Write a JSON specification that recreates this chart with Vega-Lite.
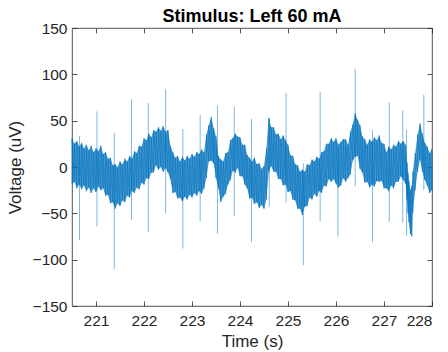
{
 "$schema": "https://vega.github.io/schema/vega-lite/v6.json",
 "width": 360, "height": 278,
 "autosize": "none",
 "padding": {"left": 72, "top": 28, "right": 16, "bottom": 46},
 "background": "white",
 "title": {"text": "Stimulus: Left 60 mA", "fontSize": 18, "font": "Liberation Sans", "fontWeight": "bold", "color": "#000000", "offset": -5},
 "config": {
  "view": {"stroke": "#262626", "strokeWidth": 0.8},
  "axis": {"domain": false, "grid": false, "tickColor": "#262626", "tickSize": -5, "tickWidth": 0.8,
           "labelFont": "Liberation Sans", "labelFontSize": 15.5, "labelColor": "#262626",
           "titleFont": "Liberation Sans", "titleFontSize": 17, "titleFontWeight": "normal", "titleColor": "#262626"}
 },
 "datasets": {
  "env": [
   {"t":220.50,"lo":-19,"hi":31},{"t":220.55,"lo":-16,"hi":25},{"t":220.60,"lo":-23,"hi":28},{"t":220.65,"lo":-19,"hi":22},
   {"t":220.70,"lo":-24,"hi":26},{"t":220.75,"lo":-20,"hi":20},{"t":220.80,"lo":-26,"hi":24},{"t":220.85,"lo":-22,"hi":18},
   {"t":220.90,"lo":-28,"hi":23},{"t":220.95,"lo":-23,"hi":16},{"t":221.00,"lo":-27,"hi":20},{"t":221.05,"lo":-21,"hi":17},
   {"t":221.10,"lo":-25,"hi":23},{"t":221.15,"lo":-23,"hi":14},{"t":221.20,"lo":-31,"hi":16},{"t":221.25,"lo":-30,"hi":9},
   {"t":221.30,"lo":-39,"hi":10},{"t":221.35,"lo":-38,"hi":2},{"t":221.40,"lo":-45,"hi":3},{"t":221.45,"lo":-39,"hi":0},
   {"t":221.50,"lo":-42,"hi":6},{"t":221.55,"lo":-36,"hi":3},{"t":221.60,"lo":-38,"hi":9},{"t":221.65,"lo":-31,"hi":6},
   {"t":221.70,"lo":-33,"hi":12},{"t":221.75,"lo":-26,"hi":9},{"t":221.80,"lo":-28,"hi":17},{"t":221.85,"lo":-22,"hi":15},
   {"t":221.90,"lo":-24,"hi":23},{"t":221.95,"lo":-17,"hi":22},{"t":222.00,"lo":-19,"hi":31},{"t":222.05,"lo":-12,"hi":29},
   {"t":222.10,"lo":-13,"hi":36},{"t":222.15,"lo":-6,"hi":32},{"t":222.20,"lo":-6,"hi":40},{"t":222.25,"lo":2,"hi":38},
   {"t":222.30,"lo":-3,"hi":43},{"t":222.35,"lo":0,"hi":39},{"t":222.40,"lo":-5,"hi":44},{"t":222.45,"lo":-1,"hi":38},
   {"t":222.50,"lo":-6,"hi":40},{"t":222.55,"lo":-13,"hi":23},{"t":222.60,"lo":-28,"hi":16},{"t":222.65,"lo":-27,"hi":10},
   {"t":222.70,"lo":-34,"hi":12},{"t":222.75,"lo":-33,"hi":6},{"t":222.80,"lo":-37,"hi":11},{"t":222.85,"lo":-32,"hi":7},
   {"t":222.90,"lo":-35,"hi":12},{"t":222.95,"lo":-30,"hi":9},{"t":223.00,"lo":-33,"hi":14},{"t":223.05,"lo":-28,"hi":11},
   {"t":223.10,"lo":-31,"hi":16},{"t":223.15,"lo":-26,"hi":14},{"t":223.20,"lo":-29,"hi":19},{"t":223.25,"lo":-23,"hi":16},
   {"t":223.30,"lo":-12,"hi":35},{"t":223.35,"lo":6,"hi":45},{"t":223.40,"lo":7,"hi":54},{"t":223.45,"lo":4,"hi":42},
   {"t":223.50,"lo":-12,"hi":33},{"t":223.55,"lo":-23,"hi":12},{"t":223.60,"lo":-38,"hi":8},{"t":223.65,"lo":-32,"hi":6},
   {"t":223.70,"lo":-29,"hi":15},{"t":223.75,"lo":-19,"hi":16},{"t":223.80,"lo":-14,"hi":29},{"t":223.85,"lo":-4,"hi":31},
   {"t":223.90,"lo":-6,"hi":36},{"t":223.95,"lo":-1,"hi":33},{"t":224.00,"lo":-10,"hi":32},{"t":224.05,"lo":-10,"hi":24},
   {"t":224.10,"lo":-19,"hi":24},{"t":224.15,"lo":-23,"hi":13},{"t":224.20,"lo":-34,"hi":10},{"t":224.25,"lo":-33,"hi":6},
   {"t":224.30,"lo":-40,"hi":10},{"t":224.35,"lo":-38,"hi":3},{"t":224.40,"lo":-44,"hi":4},{"t":224.45,"lo":-41,"hi":-2},
   {"t":224.50,"lo":-45,"hi":1},{"t":224.55,"lo":-35,"hi":20},{"t":224.60,"lo":-5,"hi":53},{"t":224.65,"lo":1,"hi":43},
   {"t":224.70,"lo":-5,"hi":43},{"t":224.75,"lo":-5,"hi":35},{"t":224.80,"lo":-13,"hi":36},{"t":224.85,"lo":-13,"hi":30},
   {"t":224.90,"lo":-20,"hi":34},{"t":224.95,"lo":-19,"hi":29},{"t":225.00,"lo":-27,"hi":24},{"t":225.05,"lo":-26,"hi":13},
   {"t":225.10,"lo":-35,"hi":12},{"t":225.15,"lo":-36,"hi":3},{"t":225.20,"lo":-45,"hi":2},{"t":225.25,"lo":-45,"hi":-5},
   {"t":225.30,"lo":-52,"hi":-3},{"t":225.35,"lo":-43,"hi":-5},{"t":225.40,"lo":-42,"hi":3},{"t":225.45,"lo":-33,"hi":2},
   {"t":225.50,"lo":-35,"hi":8},{"t":225.55,"lo":-29,"hi":6},{"t":225.60,"lo":-32,"hi":11},{"t":225.65,"lo":-26,"hi":9},
   {"t":225.70,"lo":-28,"hi":16},{"t":225.75,"lo":-20,"hi":17},{"t":225.80,"lo":-21,"hi":25},{"t":225.85,"lo":-13,"hi":25},
   {"t":225.90,"lo":-16,"hi":31},{"t":225.95,"lo":-13,"hi":27},{"t":226.00,"lo":-18,"hi":31},{"t":226.05,"lo":-22,"hi":24},
   {"t":226.10,"lo":-20,"hi":27},{"t":226.15,"lo":-12,"hi":30},{"t":226.20,"lo":-16,"hi":30},{"t":226.25,"lo":-12,"hi":24},
   {"t":226.30,"lo":-8,"hi":38},{"t":226.35,"lo":7,"hi":46},{"t":226.40,"lo":11,"hi":58},{"t":226.45,"lo":12,"hi":51},
   {"t":226.50,"lo":-2,"hi":45},{"t":226.55,"lo":-6,"hi":33},{"t":226.60,"lo":-17,"hi":30},{"t":226.65,"lo":-16,"hi":24},
   {"t":226.70,"lo":-22,"hi":30},{"t":226.75,"lo":-19,"hi":27},{"t":226.80,"lo":-21,"hi":32},{"t":226.85,"lo":-15,"hi":29},
   {"t":226.90,"lo":-16,"hi":34},{"t":226.95,"lo":-15,"hi":26},{"t":227.00,"lo":-23,"hi":25},{"t":227.05,"lo":-23,"hi":16},
   {"t":227.10,"lo":-26,"hi":22},{"t":227.15,"lo":-20,"hi":19},{"t":227.20,"lo":-23,"hi":24},{"t":227.25,"lo":-16,"hi":22},
   {"t":227.30,"lo":-16,"hi":28},{"t":227.35,"lo":-10,"hi":25},{"t":227.40,"lo":-14,"hi":28},{"t":227.45,"lo":-18,"hi":24},
   {"t":227.48,"lo":-35,"hi":5},{"t":227.50,"lo":-50,"hi":-6},{"t":227.52,"lo":-60,"hi":-15},{"t":227.55,"lo":-72,"hi":-25},
   {"t":227.58,"lo":-75,"hi":-20},{"t":227.60,"lo":-50,"hi":-5},{"t":227.65,"lo":-25,"hi":15},{"t":227.70,"lo":-5,"hi":35},
   {"t":227.75,"lo":8,"hi":47},{"t":227.80,"lo":-5,"hi":36},{"t":227.85,"lo":-14,"hi":26},{"t":227.90,"lo":-20,"hi":22},
   {"t":227.95,"lo":-28,"hi":15},{"t":228.00,"lo":-25,"hi":20}
  ],
  "spikes": [
   {"t":220.656,"top":33,"bot":-79},{"t":221.02,"top":60,"bot":-64},{"t":221.38,"top":37,"bot":-110},
   {"t":221.74,"top":73,"bot":-57},{"t":222.09,"top":69,"bot":-70},{"t":222.45,"top":84,"bot":-50},
   {"t":222.81,"top":41,"bot":-88},{"t":223.17,"top":56,"bot":-59},{"t":223.53,"top":66,"bot":-72},
   {"t":223.88,"top":65,"bot":-53},{"t":224.24,"top":52,"bot":-81},{"t":224.61,"top":53,"bot":-43},
   {"t":224.96,"top":80,"bot":-38},{"t":225.32,"top":4,"bot":-106},{"t":225.67,"top":81,"bot":-59},
   {"t":226.04,"top":20,"bot":-75},{"t":226.40,"top":106,"bot":-21},{"t":226.76,"top":40,"bot":-81},
   {"t":227.11,"top":70,"bot":-59},{"t":227.39,"top":61,"bot":-60},{"t":227.47,"top":40,"bot":-74},
   {"t":227.83,"top":78,"bot":-25}
  ]
 },
 "resolve": {"axis": {"x": "independent", "y": "independent"}},
 "layer": [
  {"data": {"name": "spikes"},
   "mark": {"type": "rule", "color": "#0072BD", "opacity": 0.5, "strokeWidth": 1},
   "encoding": {
    "x": {"field": "t", "type": "quantitative", "scale": {"domain": [220.5, 228], "nice": false, "zero": false},
          "axis": {"values": [221,222,223,224,225,226,227,228], "title": "Time (s)", "labelPadding": 12, "titlePadding": 5}},
    "y": {"field": "top", "type": "quantitative", "scale": {"domain": [-150, 150], "nice": false},
          "axis": {"values": [-150,-100,-50,0,50,100,150], "title": "Voltage (uV)", "labelPadding": 10, "titlePadding": 8}},
    "y2": {"field": "bot"}}},
  {"data": {"name": "env"},
   "mark": {"type": "area", "color": "#0072BD", "opacity": 0.72},
   "encoding": {
    "x": {"field": "t", "type": "quantitative", "axis": {"orient": "top", "values": [221,222,223,224,225,226,227,228], "labels": false, "title": null}},
    "y": {"field": "lo", "type": "quantitative", "axis": {"orient": "right", "values": [-150,-100,-50,0,50,100,150], "labels": false, "title": null}},
    "y2": {"field": "hi"}}},
  {"data": {"name": "env"},
   "transform": [{"fold": ["lo", "hi"]}],
   "mark": {"type": "line", "color": "#0072BD", "strokeWidth": 0.6, "opacity": 0.9},
   "encoding": {
    "x": {"field": "t", "type": "quantitative", "axis": null},
    "y": {"field": "value", "type": "quantitative", "axis": null}}}
 ]
}
